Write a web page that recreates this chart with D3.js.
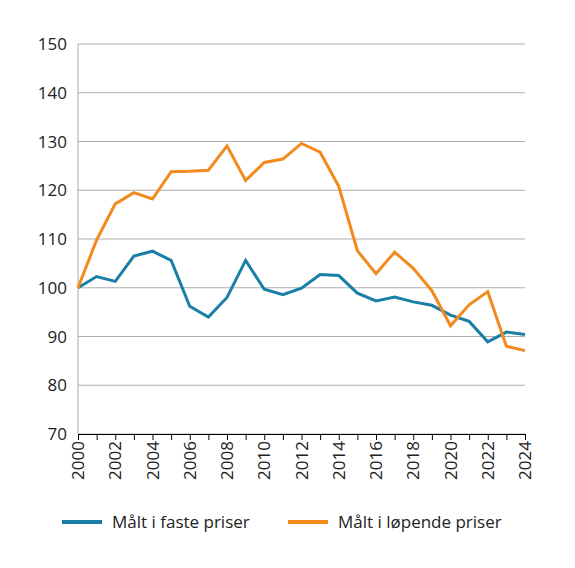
<!DOCTYPE html>
<html><head><meta charset="utf-8">
<script src="https://cdn.jsdelivr.net/npm/d3@7"></script>
<style>body{margin:0;background:#fff}text{font-family:"Open Sans",sans-serif}</style>
</head><body><svg id="c" width="575" height="568"></svg>
<script>
const years=d3.range(2000,2025);
const faste=[100,102.3,101.3,106.5,107.5,105.6,96.2,94,98,105.6,99.7,98.6,99.9,102.7,102.5,98.9,97.3,98.1,97.1,96.4,94.4,93.1,88.9,90.9,90.4];
const lopende=[100,109.8,117.2,119.5,118.2,123.8,123.9,124.1,129.1,122,125.7,126.4,129.6,127.8,120.8,107.6,102.9,107.3,104,99.4,92.2,96.5,99.2,88,87.1];
const yTicks=[70,80,90,100,110,120,130,140,150];
const xTicks=d3.range(2000,2025,2);
const names=["Målt i faste priser","Målt i løpende priser"];
const colors=["#1a7fa6","#f28a1e"];
const svg=d3.select("#c");
const x=d3.scaleLinear().domain([2000,2024]).range([78,525]);
const y=d3.scaleLinear().domain([70,150]).range([434,44]);
svg.append("g").selectAll("line").data(yTicks).join("line")
 .attr("x1",78).attr("x2",525).attr("y1",d=>y(d)).attr("y2",d=>y(d)).attr("stroke","#9a9a9a").attr("stroke-width",0.8);
svg.append("line").attr("x1",78).attr("x2",78).attr("y1",44).attr("y2",434).attr("stroke","#9a9a9a").attr("stroke-width",0.8);
svg.append("g").selectAll("text").data(yTicks).join("text")
 .attr("x",67).attr("y",d=>y(d)+6).attr("text-anchor","end").attr("font-size",17).attr("fill","#222").text(d=>d);
const xa=svg.append("g").attr("transform","translate(0,434)").call(d3.axisBottom(x).tickValues(years).tickSize(6).tickFormat(""));
xa.select(".domain").attr("stroke","#000");
xa.selectAll(".tick line").attr("stroke","#000");
svg.append("g").selectAll("text").data(xTicks).join("text")
 .attr("transform",d=>`translate(${x(d)+6},441) rotate(-90)`).attr("text-anchor","end").attr("font-size",17).attr("fill","#222").text(d=>d);
[faste,lopende].forEach((s,i)=>{
 svg.append("path").datum(s).attr("fill","none").attr("stroke",colors[i]).attr("stroke-width",3)
  .attr("d",d3.line().x((d,j)=>x(years[j])).y(d=>y(d)));
});
const lx=[62,288];
names.forEach((n,i)=>{
 svg.append("line").attr("x1",lx[i]).attr("x2",lx[i]+40).attr("y1",522).attr("y2",522).attr("stroke",colors[i]).attr("stroke-width",4);
 svg.append("text").attr("x",lx[i]+50).attr("y",528).attr("font-size",17).attr("fill","#222").text(n);
});
</script></body></html>
